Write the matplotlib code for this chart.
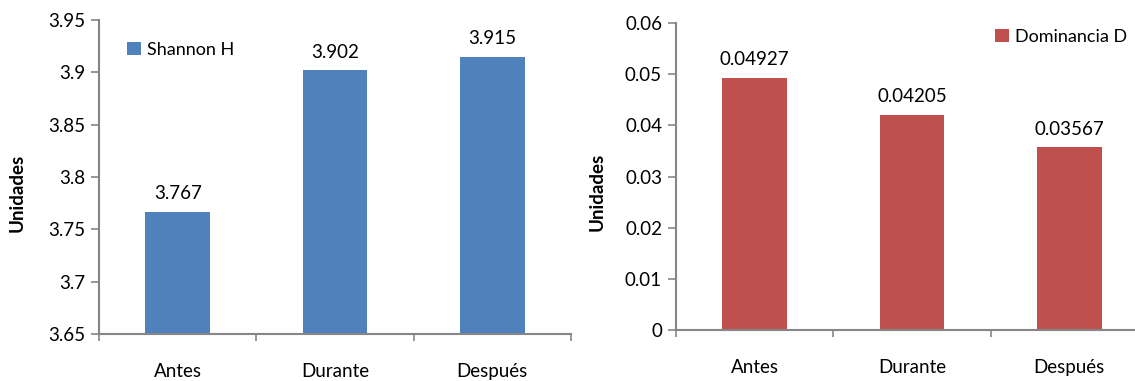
import matplotlib
matplotlib.use("Agg")
import matplotlib.pyplot as plt
from matplotlib.patches import Patch

categories = ["Antes", "Durante", "Después"]
shannon_h = [3.767, 3.902, 3.915]
dominancia_d = [0.04927, 0.04205, 0.03567]
shannon_labels = ["3.767", "3.902", "3.915"]
dominancia_labels = ["0.04927", "0.04205", "0.03567"]
shannon_ticks = [3.65, 3.7, 3.75, 3.8, 3.85, 3.9, 3.95]
shannon_ticklabels = ["3.65", "3.7", "3.75", "3.8", "3.85", "3.9", "3.95"]
dominancia_ticks = [0, 0.01, 0.02, 0.03, 0.04, 0.05, 0.06]
dominancia_ticklabels = ["0", "0.01", "0.02", "0.03", "0.04", "0.05", "0.06"]

plt.rcParams["font.family"] = ["Lato", "DejaVu Sans"]
AXIS_GRAY = "#868686"
FS = 13.5
LEG_FS = 13

W, H = 1135, 381
fig = plt.figure(figsize=(W / 100, H / 100), dpi=100)


def frac(x0, y_top, x1, y_bot):
    return [x0 / W, 1 - y_bot / H, (x1 - x0) / W, (y_bot - y_top) / H]


def panel(rect, values, labels, color, ticks, ticklabels, ylim, legend_name,
          legend_pos, ylabel_x):
    ax = fig.add_axes(rect)
    x = list(range(len(categories)))
    ax.bar(x, values, width=0.41, color=color, zorder=2)
    for xi, v, lab in zip(x, values, labels):
        ax.annotate(lab, (xi, v), xytext=(0, 7), textcoords="offset points",
                    ha="center", va="bottom", fontsize=FS, color="black")
    ax.set_xlim(-0.5, 2.5)
    ax.set_ylim(*ylim)
    ax.set_yticks(ticks)
    ax.set_yticklabels(ticklabels, fontsize=FS)
    ax.set_xticks(x)
    ax.set_xticklabels(categories, fontsize=FS)
    ax.set_xticks([-0.5, 0.5, 1.5, 2.5], minor=True)
    ax.tick_params(axis="x", which="major", length=0, pad=21)
    ax.tick_params(axis="x", which="minor", length=5, color=AXIS_GRAY,
                   width=1.2, direction="out")
    ax.tick_params(axis="y", length=6, color=AXIS_GRAY, width=1.2, pad=4)
    for s in ("top", "right"):
        ax.spines[s].set_visible(False)
    for s in ("left", "bottom"):
        ax.spines[s].set_color(AXIS_GRAY)
        ax.spines[s].set_linewidth(1.5)
    ax.set_ylabel("Unidades", fontsize=FS, fontweight="bold")
    ax.yaxis.set_label_coords(ylabel_x, 0.45)
    ax.legend(handles=[Patch(facecolor=color, label=legend_name)],
              loc="upper left", bbox_to_anchor=legend_pos, frameon=False,
              fontsize=LEG_FS, handlelength=0.75, handleheight=0.75,
              handletextpad=0.35, borderaxespad=0, borderpad=0)
    return ax


panel(frac(99, 20, 571, 334), shannon_h, shannon_labels, "#4F81BD",
      shannon_ticks, shannon_ticklabels, (3.65, 3.95), "Shannon H",
      (0.06, 0.93), -0.155)
panel(frac(676, 23, 1148, 330), dominancia_d, dominancia_labels, "#C0504D",
      dominancia_ticks, dominancia_ticklabels, (0, 0.06), "Dominancia D",
      (0.676, 0.98), -0.15)

fig.savefig("out.png", dpi=100)
